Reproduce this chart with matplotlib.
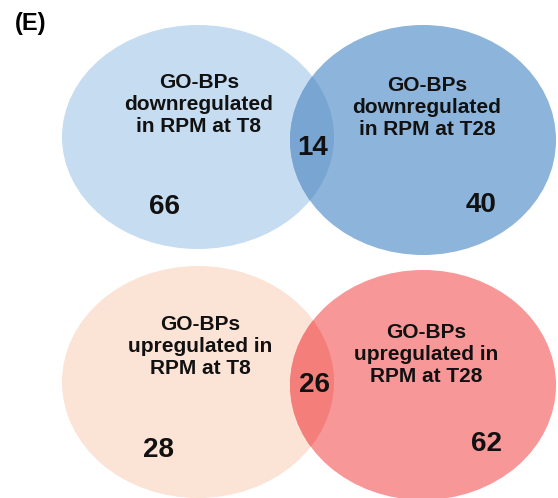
import matplotlib.pyplot as plt
from matplotlib.patches import Ellipse

# counts: only first set, overlap, only second set
down_counts = [66, 14, 40]
up_counts = [28, 26, 62]
down_labels = ["GO-BPs\ndownregulated\nin RPM at T8", "GO-BPs\ndownregulated\nin RPM at T28"]
up_labels = ["GO-BPs\nupregulated in\nRPM at T8", "GO-BPs\nupregulated in\nRPM at T28"]

plt.rcParams['font.family'] = ['Liberation Sans', 'DejaVu Sans']

fig = plt.figure(figsize=(5.58, 4.98), dpi=100)
ax = fig.add_axes([0, 0, 1, 1])
ax.set_xlim(0, 558)
ax.set_ylim(498, 0)
ax.axis('off')


def venn(ax, left, right, colors, labels, counts, label_pos, count_pos):
    (lx, ly, lw, lh), (rx, ry, rw, rh) = left, right
    e1 = Ellipse((lx, ly), lw, lh, facecolor=colors[0], edgecolor='none')
    e2 = Ellipse((rx, ry), rw, rh, facecolor=colors[2], edgecolor='none')
    ax.add_patch(e1)
    ax.add_patch(e2)
    # overlap = right ellipse clipped by the left one
    e3 = Ellipse((rx, ry), rw, rh, facecolor=colors[1], edgecolor='none')
    ax.add_patch(e3)
    clip = Ellipse((lx, ly), lw, lh, transform=ax.transData)
    e3.set_clip_path(clip)
    for txt, (x, y) in zip(labels, label_pos):
        ax.text(x, y, txt, ha='center', va='center', fontsize=15,
                fontweight='bold', linespacing=1.2, color='#111111')
    for n, (x, y) in zip(counts, count_pos):
        ax.text(x, y, str(n), ha='center', va='center', fontsize=20,
                fontweight='bold', color='#111111')


venn(ax, (198, 137, 272, 224), (423, 140, 266, 230),
     ['#c6dcf0', '#78a5d1', '#8db4da'], down_labels, down_counts,
     [(199, 104), (427, 107)], [(164, 207), (313, 148), (481, 205)])

venn(ax, (198, 382, 272, 232), (423, 385, 266, 230),
     ['#fbe3d6', '#f37e7a', '#f89797'], up_labels, up_counts,
     [(200, 346), (426, 354)], [(159, 450), (314, 385), (486, 444)])

ax.text(31, 23, "(E)", ha='center', va='center', fontsize=17, fontweight='bold')

fig.savefig('out.png', dpi=100)
